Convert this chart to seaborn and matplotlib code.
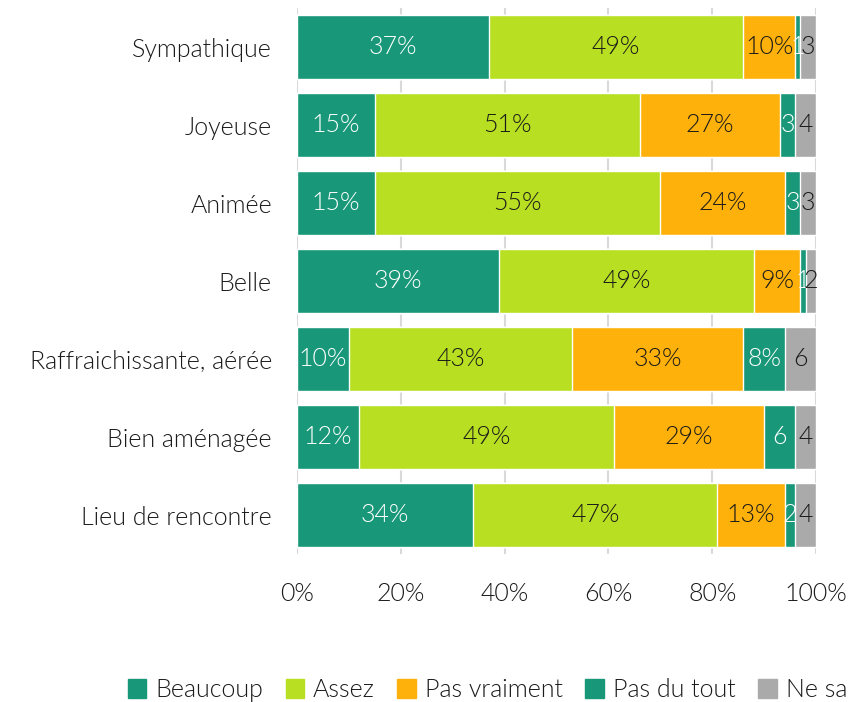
import pandas as pd
import numpy as np
import matplotlib
matplotlib.use("Agg")
import matplotlib.pyplot as plt
import seaborn as sns

# données (%)
categories = ["Sympathique", "Joyeuse", "Animée", "Belle",
              "Raffraichissante, aérée", "Bien aménagée", "Lieu de rencontre"]
series = ["Beaucoup", "Assez", "Pas vraiment", "Pas du tout", "Ne sait pas"]
beaucoup = [37, 15, 15, 39, 10, 12, 34]
assez = [49, 51, 55, 49, 43, 49, 47]
pas_vraiment = [10, 27, 24, 9, 33, 29, 13]
pas_du_tout = [1, 3, 3, 1, 8, 6, 2]
ne_sait_pas = [3, 4, 3, 2, 6, 4, 4]

colors = ["#189879", "#B8DF22", "#FFB10B", "#189879", "#AAAAAA"]
text_colors = ["white", "#1a1a1a", "#1a1a1a", "white", "#1a1a1a"]

df = pd.DataFrame({"cat": categories, "Beaucoup": beaucoup, "Assez": assez,
                   "Pas vraiment": pas_vraiment, "Pas du tout": pas_du_tout,
                   "Ne sait pas": ne_sait_pas})

sns.set_style("white")
plt.rcParams["font.family"] = ["Lato", "DejaVu Sans"]
plt.rcParams["font.weight"] = 300
plt.rcParams["text.color"] = "#1a1a1a"
plt.rcParams["xtick.color"] = "#1a1a1a"
plt.rcParams["ytick.color"] = "#1a1a1a"

FS = 18

fig = plt.figure(figsize=(8.48, 7.02), dpi=100)
ax = fig.add_axes([0.3502, 0.2108, 0.6121, 0.7778])

cum = df[series].cumsum(axis=1)

# barres empilées : on dessine les cumuls du plus grand au plus petit
for s, c in reversed(list(zip(series, colors))):
    sns.barplot(x=cum[s], y=df["cat"], orient="h", color=c, width=0.81,
                saturation=1, ax=ax, zorder=3)

# étiquettes
for i, cat in enumerate(categories):
    left = 0
    for s, tc in zip(series, text_colors):
        v = df.loc[i, s]
        txt = f"{v}%" if v >= 7 else f"{v}"
        ax.text(left + v / 2, i, txt, ha="center", va="center",
                color=tc, fontsize=FS, zorder=5)
        left += v

ax.set_xlim(0, 100)
ax.set_ylim(6.5, -0.5)
ax.set_xticks(range(0, 101, 20))
ax.set_xticklabels([f"{t}%" for t in range(0, 101, 20)])
ax.tick_params(axis="x", length=0, pad=20, labelsize=FS)
ax.tick_params(axis="y", length=0, pad=18, labelsize=FS)
ax.set_xlabel("")
ax.set_ylabel("")
ax.xaxis.grid(True, color="#D9D9D9", linewidth=1.5, zorder=0)
ax.yaxis.grid(False)
ax.set_axisbelow(True)
for sp in ax.spines.values():
    sp.set_visible(False)

handles = [plt.Rectangle((0, 0), 1, 1, color=c) for c in colors]
fig.legend(handles, series, loc="center left", bbox_to_anchor=(0.124, 0.017),
           ncol=5, frameon=False, fontsize=FS, handlelength=0.75,
           handleheight=0.75, handletextpad=0.35, columnspacing=0.9)

fig.savefig("out.png", dpi=100)
